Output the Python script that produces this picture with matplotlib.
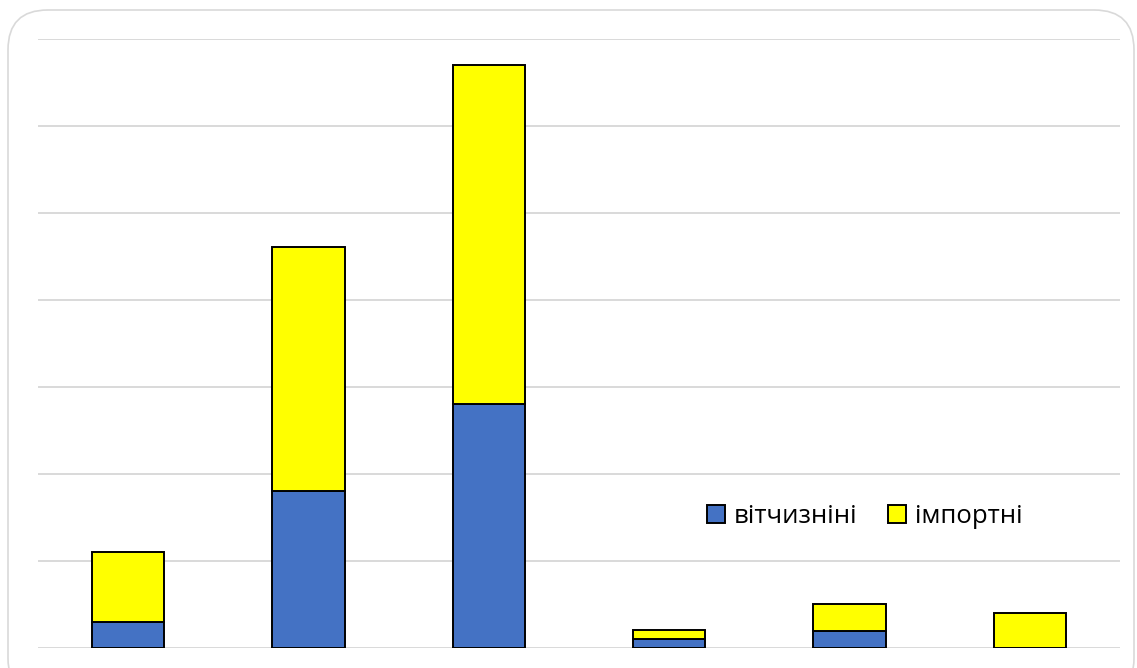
import matplotlib.pyplot as plt
from matplotlib.patches import FancyBboxPatch

# values (gridline step = 1 unit)
categories = ["1", "2", "3", "4", "5", "6"]
domestic = [0.30, 1.80, 2.80, 0.10, 0.195, 0.0]
imported = [0.795, 2.81, 3.90, 0.10, 0.305, 0.40]
series_names = ["вітчизніні", "імпортні"]

plt.rcParams['font.family'] = ['Open Sans', 'DejaVu Sans']

fig = plt.figure(figsize=(11.37, 6.68), dpi=100)

# rounded frame around the chart area
frame = FancyBboxPatch((8 / 1137, -30 / 668), 1126 / 1137, 688 / 668,
                       boxstyle="round,pad=0,rounding_size=0.035",
                       transform=fig.transFigure, facecolor='white',
                       edgecolor='#D9D9D9', linewidth=1.2,
                       mutation_aspect=1137 / 668, zorder=-10)
fig.patches.append(frame)

ax = fig.add_axes([38 / 1137, (668 - 647.7) / 668, 1082 / 1137, 608.7 / 668])
ax.set_facecolor('none')

x = range(len(categories))
ax.bar(x, domestic, width=0.4, color='#4472C4', edgecolor='black',
       linewidth=1.4, label=series_names[0], zorder=3)
ax.bar(x, imported, width=0.4, bottom=domestic, color='#FFFF00',
       edgecolor='black', linewidth=1.4, label=series_names[1], zorder=3)

ax.set_xlim(-0.5, len(categories) - 0.5)
ax.set_ylim(0, 7)
ax.set_yticks(range(8))
ax.grid(axis='y', color='#D9D9D9', linewidth=1.4, zorder=0)
ax.set_xticks([])
ax.tick_params(left=False, labelleft=False)
for s in ax.spines.values():
    s.set_visible(False)

ax.legend(loc='center', bbox_to_anchor=(0.764, 0.216), ncol=2, frameon=False,
          fontsize=18.5, handlelength=0.7, handleheight=0.7,
          handletextpad=0.35, columnspacing=1.2)

fig.savefig('out.png', dpi=100)
